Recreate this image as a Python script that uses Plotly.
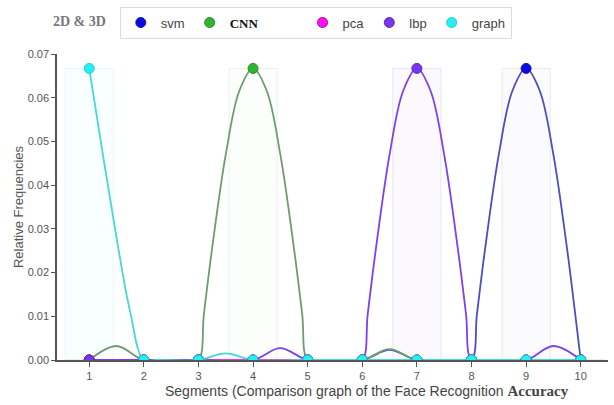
import plotly.graph_objects as go

# ---------------- data ----------------
segments = [1, 2, 3, 4, 5, 6, 7, 8, 9, 10]
tick_labels = ["1", "2", "3", "4", "5", "6", "7", "8", "9", "10"]
y_ticks = [0, 0.01, 0.02, 0.03, 0.04, 0.05, 0.06, 0.07]

svm_x = [1, 2, 3, 4, 5, 6, 6.5, 7, 7.75, 8, 8.1, 8.25, 8.5, 8.75, 9, 9.25, 9.5, 9.75, 9.9, 10]
svm_y = [0, 0, 0, 0, 0, 0, 0.0023, 0, 0, 0, 0.0105, 0.0255, 0.047, 0.0616, 0.0667, 0.0616, 0.047, 0.0255, 0.0105, 0]

cnn_x = [1, 1.5, 2, 2.75, 3, 3.1, 3.25, 3.5, 3.75, 4, 4.25, 4.5, 4.75, 4.9, 5, 5.25, 6, 6.5, 7, 8, 9, 10]
cnn_y = [0, 0.0032, 0, 0, 0, 0.0105, 0.0255, 0.047, 0.0616, 0.0667, 0.0616, 0.047, 0.0255, 0.0105, 0, 0,
         0, 0.0025, 0, 0, 0, 0]

pca_x = [1, 2, 3, 4, 5, 6, 7, 8, 9, 10]
pca_y = [0, 0, 0, 0, 0, 0, 0, 0, 0, 0]

lbp_x = [1, 2, 3, 4, 4.5, 5, 5.75, 6, 6.1, 6.25, 6.5, 6.75, 7, 7.25, 7.5, 7.75, 7.9, 8, 8.25, 9, 9.5, 10]
lbp_y = [0, 0, 0, 0, 0.0027, 0, 0, 0, 0.0105, 0.0255, 0.047, 0.0616, 0.0667, 0.0616, 0.047, 0.0255, 0.0105,
         0, 0, 0, 0.0032, 0]

graph_x = [1, 1.25, 1.5, 1.75, 2, 2.25, 3, 3.5, 4, 5, 6, 7, 8, 9, 10]
graph_y = [0.0667, 0.047, 0.028, 0.011, 0, 0, 0, 0.0015, 0, 0, 0, 0, 0, 0, 0]

series_names = ["svm", "cnn", "pca", "lbp", "graph"]
legend_labels = ["svm",
                 "<span style='font-family:Liberation Serif;color:#111'><b>CNN</b></span>           ",
                 "pca", "lbp", "graph"]
series_x = [svm_x, cnn_x, pca_x, lbp_x, graph_x]
series_y = [svm_y, cnn_y, pca_y, lbp_y, graph_y]

x_title = ("Segments (Comparison graph of the Face Recognition "
           "<span style='font-family:Liberation Serif;font-size:15px'><b>Accuracy</b></span>")
y_title = "Relative Frequencies"
legend_title = "<b>2D &amp; 3D</b>"


def at_segments(xs, ys):
    lookup = dict(zip(xs, ys))
    return [lookup[s] for s in segments]


# ---------------- styles ----------------
marker_colors = ["#0a0ae6", "#2fb52f", "#ff10f0", "#7a35f0", "#22f0f4"]
marker_edges = ["#1a1a9a", "#2c8a2c", "#b000b0", "#5a2ab0", "#2cc8c8"]
line_colors = ["#4c4cc4", "#6e9c6e", "#e040e0", "#7d40ee", "#46d8d4"]
bar_fills = ["rgba(240,240,252,0.25)", "rgba(240,248,240,0.2)", "rgba(250,240,250,0.2)",
             "rgba(244,238,253,0.35)", "rgba(235,252,252,0.3)"]
bar_edges = ["rgba(225,225,238,0.8)", "rgba(230,238,230,0.8)", "rgba(242,228,242,0.8)",
             "rgba(228,222,240,0.8)", "rgba(228,245,245,0.8)"]

fig = go.Figure()

# faint bars behind the curves
for xs, ys, fc, ec in zip(series_x, series_y, bar_fills, bar_edges):
    fig.add_trace(go.Bar(x=segments, y=at_segments(xs, ys), width=0.88,
                         marker=dict(color=fc, line=dict(color=ec, width=1)),
                         showlegend=False, hoverinfo="skip"))

# smooth curves
for xs, ys, lc in zip(series_x, series_y, line_colors):
    fig.add_trace(go.Scatter(x=xs, y=ys, mode="lines",
                             line=dict(color=lc, width=1.8, shape="spline", smoothing=1.0),
                             showlegend=False, hoverinfo="skip"))

# markers at the segments
for xs, ys, lab, mc, me in zip(series_x, series_y, legend_labels, marker_colors, marker_edges):
    fig.add_trace(go.Scatter(x=segments, y=at_segments(xs, ys), mode="markers", name=lab,
                             marker=dict(color=mc, size=10, line=dict(color=me, width=1))))

fig.update_layout(
    width=614, height=405,
    margin=dict(l=57, r=6, t=51, b=45),
    plot_bgcolor="white", paper_bgcolor="white",
    barmode="overlay",
    font=dict(family="Liberation Sans, Arial, sans-serif", size=11, color="#555"),
    legend=dict(orientation="h", x=0.114, y=1.155, xanchor="left", yanchor="top",
                bordercolor="#dcdcdc", borderwidth=1, bgcolor="white",
                font=dict(size=13, color="#444", family="Liberation Sans, Arial, sans-serif"),
                itemwidth=30, tracegroupgap=0),
    annotations=[
        dict(text=legend_title, xref="paper", yref="paper", x=0.0926, y=1.107,
             xanchor="right", yanchor="middle", showarrow=False,
             font=dict(family="Liberation Serif, serif", size=14, color="#777")),
        dict(text=x_title, xref="paper", yref="paper", x=0.5626, y=-0.1003,
             xanchor="center", yanchor="middle", showarrow=False,
             font=dict(size=14, color="#444")),
    ],
)

fig.update_xaxes(range=[0.41, 10.5], tickvals=segments, ticktext=tick_labels,
                 showline=True, linecolor="#555", linewidth=1.5, ticks="outside", ticklen=5,
                 tickcolor="#555", showgrid=False, zeroline=False,
                 tickfont=dict(size=11, color="#555"))
fig.update_yaxes(range=[0, 0.07], tickvals=y_ticks,
                 tickformat=".2f", showline=True, linecolor="#555", linewidth=1.5,
                 ticks="outside", ticklen=4, tickcolor="#555", showgrid=False, zeroline=False,
                 tickfont=dict(size=11, color="#555"),
                 title=dict(text=y_title, font=dict(size=13, color="#555"), standoff=1))

fig.write_html("out.html", config={"displayModeBar": False},
               post_script="document.body.style.margin='0';")
